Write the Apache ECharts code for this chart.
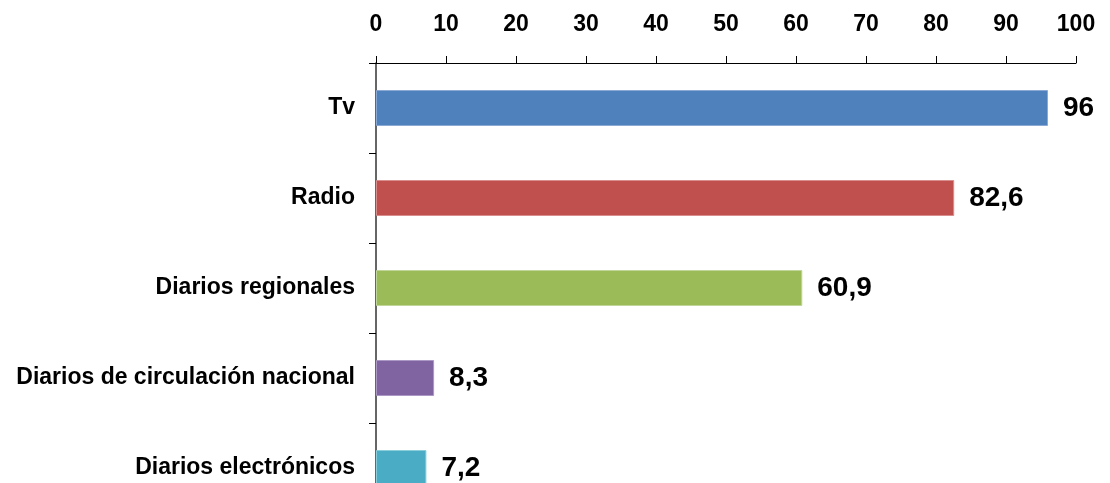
<!DOCTYPE html>
<html>
<head>
<meta charset="utf-8">
<script src="https://cdn.jsdelivr.net/npm/echarts@6/dist/echarts.min.js"></script>
<style>
html,body{margin:0;padding:0;background:#fff;}
#chart{width:1110px;height:483px;}
</style>
</head>
<body>
<div id="chart"></div>
<script>
const categories = ["Tv", "Radio", "Diarios regionales", "Diarios de circulación nacional", "Diarios electrónicos"];
const values = [96, 82.6, 60.9, 8.3, 7.2];
const barColors = ["#4F81BD", "#C0504D", "#9BBB59", "#8064A2", "#4BACC6"];
const barBorders = ["#8AA9D4", "#D88E8C", "#C0D59A", "#AC98C4", "#8ACEDC"];
const xTicks = [0, 10, 20, 30, 40, 50, 60, 70, 80, 90, 100];

const chart = echarts.init(document.getElementById('chart'), null, {renderer: 'canvas'});
const FONT = '"Liberation Sans", Arial, sans-serif';
chart.setOption({
  animation: false,
  backgroundColor: '#ffffff',
  grid: {left: 376, top: 63, width: 700, height: 450, containLabel: false, outerBoundsMode: 'none'},
  xAxis: {
    type: 'value',
    position: 'top',
    min: xTicks[0],
    max: xTicks[xTicks.length - 1],
    interval: 10,
    axisLine: {show: true, lineStyle: {color: '#000', width: 1}},
    axisTick: {show: true, inside: false, length: 7, lineStyle: {color: '#000'}},
    splitLine: {show: false},
    axisLabel: {
      margin: 27,
      color: '#000',
      fontFamily: FONT,
      fontWeight: 'bold',
      fontSize: 23
    }
  },
  yAxis: {
    type: 'category',
    inverse: true,
    data: categories,
    axisLine: {show: true, lineStyle: {color: '#333', width: 1.5}},
    axisTick: {show: true, inside: false, length: 7, alignWithLabel: false, lineStyle: {color: '#000'}},
    axisLabel: {
      margin: 21,
      color: '#000',
      fontFamily: FONT,
      fontWeight: 'bold',
      fontSize: 23
    }
  },
  series: [{
    type: 'bar',
    barWidth: 36,
    data: values.map((v, i) => ({value: v, itemStyle: {color: barColors[i], borderColor: barBorders[i], borderWidth: 1}})),
    label: {
      show: true,
      position: 'right',
      distance: 15,
      color: '#000',
      fontFamily: FONT,
      fontWeight: 'bold',
      fontSize: 28,
      formatter: p => String(p.value).replace('.', ',')
    }
  }]
});
</script>
</body>
</html>
